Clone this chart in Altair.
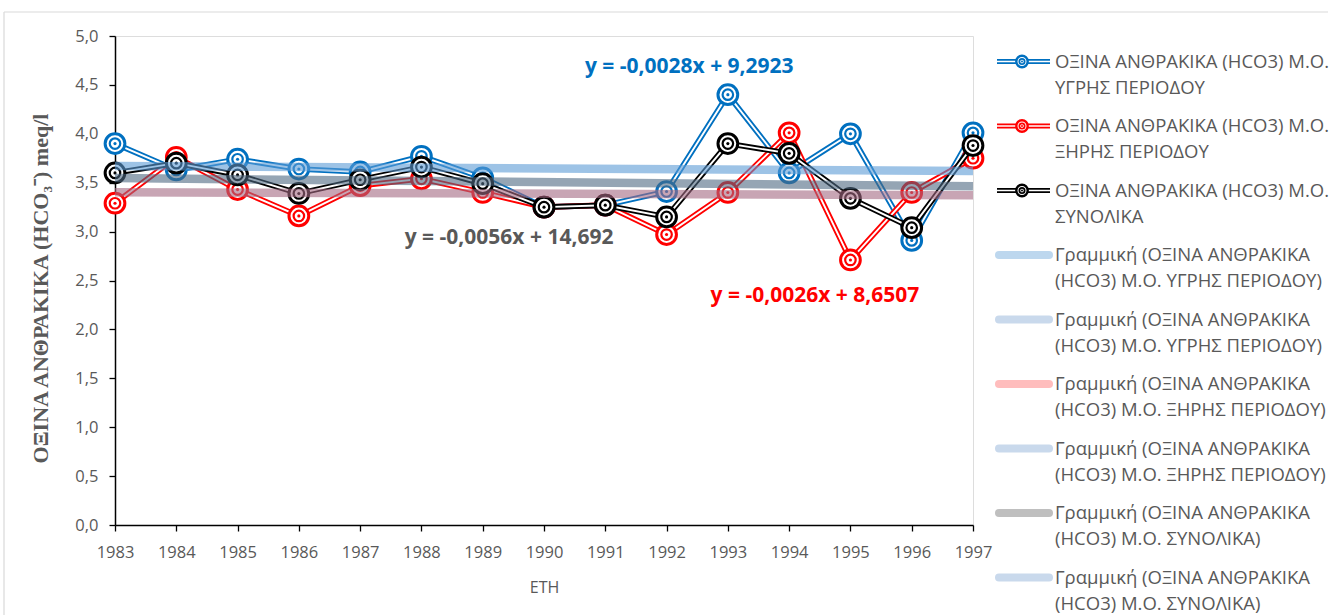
import altair as alt
import pandas as pd

# Annual mean bicarbonate (HCO3-) concentrations, meq/l
years = list(range(1983, 1998))
wet = [3.90, 3.63, 3.74, 3.64, 3.61, 3.77, 3.55, 3.25, 3.27, 3.41, 4.40, 3.60, 4.00, 2.91, 4.01]
dry = [3.29, 3.76, 3.43, 3.16, 3.47, 3.54, 3.40, 3.25, 3.27, 2.97, 3.40, 4.01, 2.71, 3.40, 3.75]
total = [3.60, 3.70, 3.58, 3.39, 3.53, 3.66, 3.49, 3.25, 3.27, 3.15, 3.90, 3.80, 3.34, 3.04, 3.88]

series_keys = ["wet", "dry", "total"]
series_colors = ["#0070c0", "#ff0000", "#000000"]
trend_colors = ["#5c9bd5", "#a36982", "#4e6982"]

equations = ["y = -0,0028x + 9,2923", "y = -0,0026x + 8,6507", "y = -0,0056x + 14,692"]
equation_colors = ["#0070c0", "#ff0000", "#595959"]

legend_line1 = [
    "ΟΞΙΝΑ ΑΝΘΡΑΚΙΚΑ (HCO3) Μ.Ο.",
    "ΟΞΙΝΑ ΑΝΘΡΑΚΙΚΑ (HCO3) Μ.Ο.",
    "ΟΞΙΝΑ ΑΝΘΡΑΚΙΚΑ (HCO3) Μ.Ο.",
    "Γραμμική (ΟΞΙΝΑ ΑΝΘΡΑΚΙΚΑ",
    "Γραμμική (ΟΞΙΝΑ ΑΝΘΡΑΚΙΚΑ",
    "Γραμμική (ΟΞΙΝΑ ΑΝΘΡΑΚΙΚΑ",
    "Γραμμική (ΟΞΙΝΑ ΑΝΘΡΑΚΙΚΑ",
    "Γραμμική (ΟΞΙΝΑ ΑΝΘΡΑΚΙΚΑ",
    "Γραμμική (ΟΞΙΝΑ ΑΝΘΡΑΚΙΚΑ",
]
legend_line2 = [
    "ΥΓΡΗΣ ΠΕΡΙΟΔΟΥ",
    "ΞΗΡΗΣ ΠΕΡΙΟΔΟΥ",
    "ΣΥΝΟΛΙΚΑ",
    "(HCO3) Μ.Ο. ΥΓΡΗΣ ΠΕΡΙΟΔΟΥ)",
    "(HCO3) Μ.Ο. ΥΓΡΗΣ ΠΕΡΙΟΔΟΥ)",
    "(HCO3) Μ.Ο. ΞΗΡΗΣ ΠΕΡΙΟΔΟΥ)",
    "(HCO3) Μ.Ο. ΞΗΡΗΣ ΠΕΡΙΟΔΟΥ)",
    "(HCO3) Μ.Ο. ΣΥΝΟΛΙΚΑ)",
    "(HCO3) Μ.Ο. ΣΥΝΟΛΙΚΑ)",
]
legend_trend_colors = ["#bdd7ee", "#c9d9ec", "#ffbdbd", "#c9d9ec", "#bfbfbf", "#c9d9ec"]

TEXT_GREY = "#595959"
FRAME_GREY = "#d9d9d9"

# ---------- tables ----------
rows = []
for key, vals in zip(series_keys, [wet, dry, total]):
    for yr, v in zip(years, vals):
        rows.append({"year": yr, "value": v, "series": key})
df = pd.DataFrame(rows)

# equation labels, placed in data coordinates (year, value)
eq_df = pd.DataFrame({
    "text": equations,
    "color": equation_colors,
    "year": [1992.37, 1994.42, 1989.43],
    "value": [4.68, 2.34, 2.93],
})

x_enc = alt.X(
    "year:Q",
    title="ΕΤΗ",
    scale=alt.Scale(domain=[1983, 1997], nice=False, zero=False),
    axis=alt.Axis(
        values=years, format="d", grid=False, labelFlush=False, labelOverlap=False,
        tickSize=6, tickWidth=1.3, tickColor="#000000",
        domainColor="#000000", domainWidth=1.5,
        labelPadding=13, labelFont="Open Sans", labelFontSize=16.5, labelColor=TEXT_GREY,
        titleFont="Open Sans", titleFontSize=16, titleFontWeight="normal",
        titleColor=TEXT_GREY, titlePadding=19,
    ),
)
y_enc = alt.Y(
    "value:Q",
    title="ΟΞΙΝΑ ΑΝΘΡΑΚΙΚΑ (HCO₃⁻) meq/l",
    scale=alt.Scale(domain=[0, 5], nice=False),
    axis=alt.Axis(
        values=[i * 0.5 for i in range(11)], grid=False,
        labelExpr="replace(format(datum.value, '.1f'), '.', ',')",
        tickSize=6, tickWidth=1.3, tickColor="#000000",
        domainColor="#000000", domainWidth=1.5,
        labelPadding=11, labelFont="Open Sans", labelFontSize=16.5, labelColor=TEXT_GREY,
        titleFont="Liberation Serif", titleFontSize=22, titleFontWeight="bold",
        titleColor=TEXT_GREY, titlePadding=22, titleY=252,
    ),
)

base = alt.Chart(df).encode(x=x_enc, y=y_enc)

layers = []
for key, col in zip(series_keys, series_colors):
    s = base.transform_filter(alt.datum.series == key)
    # double line: wide coloured stroke with a thin white core
    layers.append(s.mark_line(color=col, strokeWidth=5.6))
    layers.append(s.mark_line(color="white", strokeWidth=1.9))
    # double-ring markers
    layers.append(s.mark_circle(size=390, fill="white", stroke=col, strokeWidth=3.0, opacity=1))
    layers.append(s.mark_circle(size=110, fill="white", stroke=col, strokeWidth=2.2, opacity=1))
    layers.append(s.mark_circle(size=10, color=col, opacity=1))

# linear trend lines, drawn semi-transparent over the series
for key, col in zip(series_keys, trend_colors):
    layers.append(
        base.transform_filter(alt.datum.series == key)
        .transform_regression("year", "value", extent=[1983, 1997])
        .mark_line(color=col, strokeWidth=8.5, opacity=0.6)
    )

layers.append(
    alt.Chart(eq_df).mark_text(font="Open Sans", fontSize=21, fontWeight="bold")
    .encode(x=x_enc, y=y_enc, text="text:N", color=alt.Color("color:N", scale=None))
)

# light outer frame of the chart area (left and top edges)
frame_df = pd.DataFrame({"edge": ["left", "top"]})
frame = alt.Chart(frame_df)
layers.append(
    frame.transform_filter(alt.datum.edge == "left")
    .mark_rule(color=FRAME_GREY, strokeWidth=1.2)
    .encode(x=alt.value(-111), y=alt.value(-24), y2=alt.value(579))
)
layers.append(
    frame.transform_filter(alt.datum.edge == "top")
    .mark_rule(color=FRAME_GREY, strokeWidth=1.2)
    .encode(x=alt.value(-111), x2=alt.value(1213), y=alt.value(-24))
)

main = alt.layer(*layers).properties(width=858, height=489)

# ---------- legend panel ----------
LEG_H = 580
STEP = 64.5
FIRST = 25.5
leg_df = pd.DataFrame({
    "idx": list(range(9)),
    "line1": legend_line1,
    "line2": legend_line2,
    "color": series_colors + legend_trend_colors,
    "kind": ["series"] * 3 + ["trend"] * 6,
})
y_leg = alt.Y(
    "idx:Q",
    axis=None,
    scale=alt.Scale(domain=[-FIRST / STEP, (LEG_H - FIRST) / STEP], reverse=True, nice=False, zero=False),
)
leg = alt.Chart(leg_df).encode(y=y_leg)
ser = leg.transform_filter(alt.datum.kind == "series")
tr = leg.transform_filter(alt.datum.kind == "trend")
col_scale = alt.Color("color:N", scale=None)

legend_layers = [
    ser.mark_rule(strokeWidth=5.2).encode(x=alt.value(7), x2=alt.value(60), color=col_scale),
    ser.mark_rule(strokeWidth=1.7, color="white").encode(x=alt.value(7), x2=alt.value(60)),
    ser.mark_circle(size=130, fill="white", strokeWidth=2.4, opacity=1).encode(x=alt.value(32), stroke=alt.Stroke("color:N", scale=None)),
    ser.mark_circle(size=28, fill="white", strokeWidth=1.8, opacity=1).encode(x=alt.value(32), stroke=alt.Stroke("color:N", scale=None)),
    ser.mark_circle(size=4, opacity=1).encode(x=alt.value(32), color=col_scale),
    tr.mark_rule(strokeWidth=8, strokeCap="round").encode(x=alt.value(9), x2=alt.value(59), color=col_scale),
    leg.mark_text(align="left", baseline="middle", font="Open Sans", fontSize=18.5, color=TEXT_GREY)
    .encode(x=alt.value(65), text="line1:N"),
    leg.mark_text(align="left", baseline="middle", font="Open Sans", fontSize=18.5, color=TEXT_GREY, dy=26)
    .encode(x=alt.value(65), text="line2:N"),
]
legend_panel = alt.layer(*legend_layers).properties(
    width=335, height=LEG_H, view=alt.ViewBackground(stroke="transparent")
)

chart = (
    alt.hconcat(main, legend_panel, spacing=17, bounds="flush")
    .properties(padding={"left": 2, "top": 10, "right": 0, "bottom": 0})
    .configure_view(stroke="#d9d9d9", strokeWidth=1.5)
    .configure(background="white")
)

chart.save("out.html", embed_options={"renderer": "svg", "actions": False})
